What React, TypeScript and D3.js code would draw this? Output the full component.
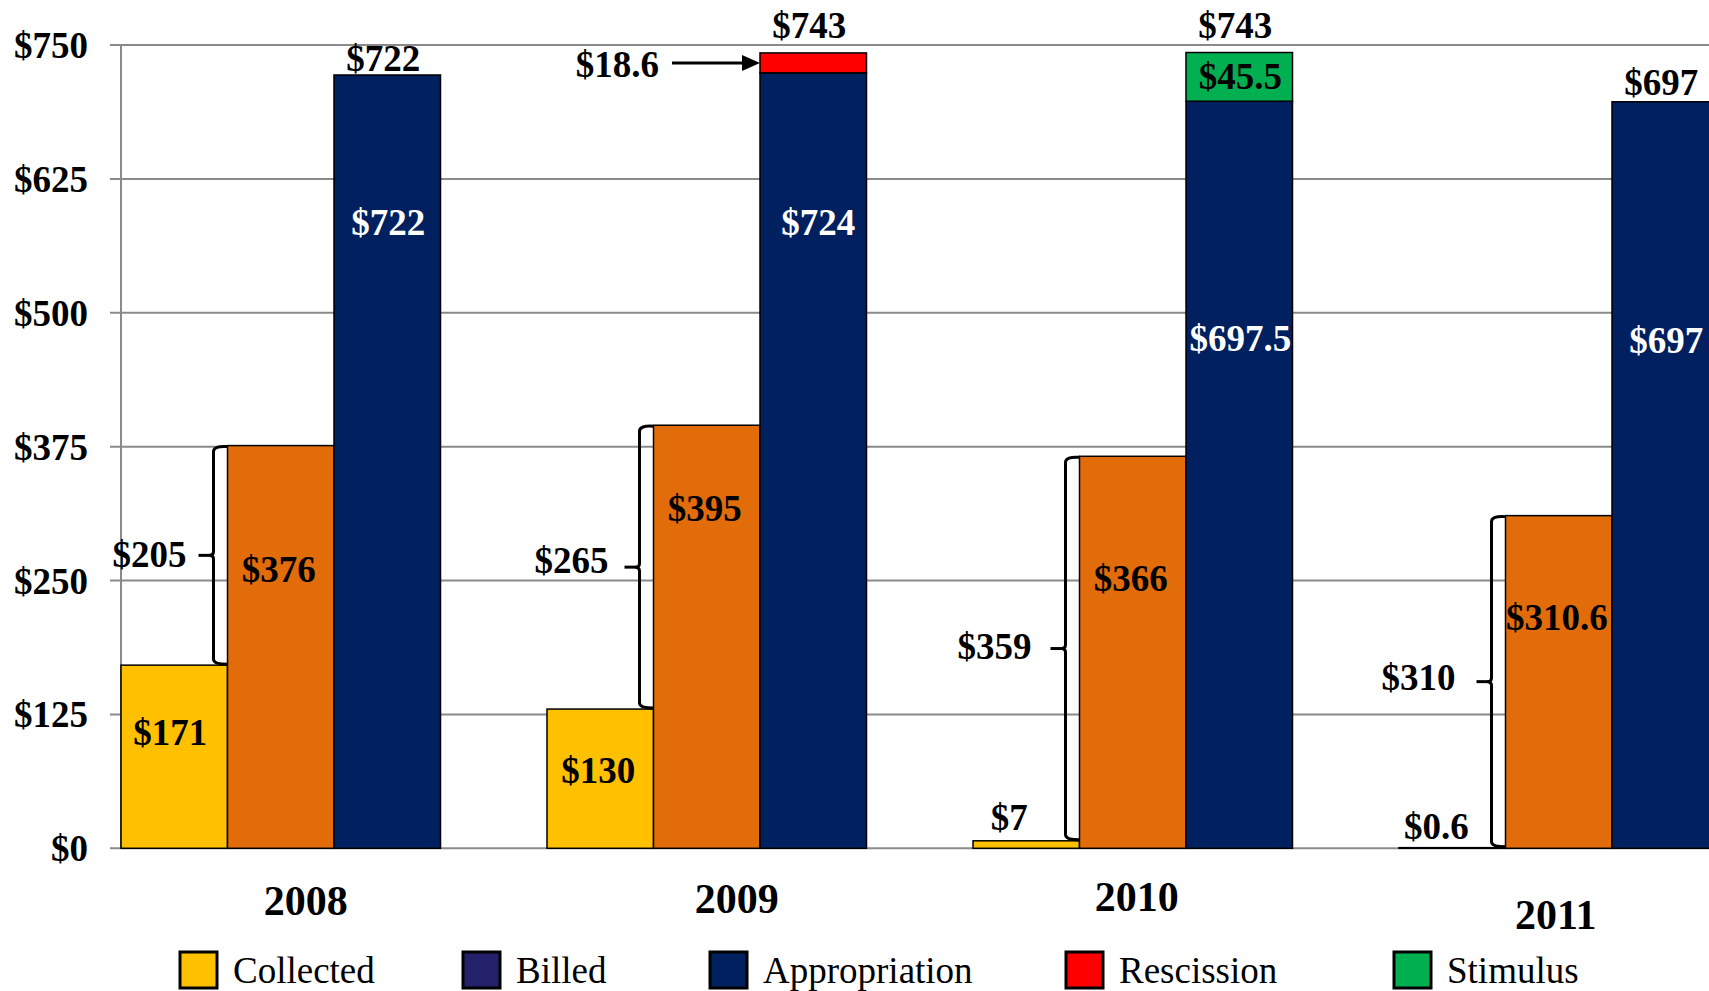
import React from "react";
import * as d3 from "d3";

const years = ["2008", "2009", "2010", "2011"];
const collected = [171, 130, 7, 0.6];
const billed = [376, 395, 366, 310.6];
const appropriation = [722, 724, 697.5, 697];
const rescission = [0, 18.6, 0, 0];
const stimulus = [0, 0, 45.5, 0];
const gapLabels = ["$205", "$265", "$359", "$310"];
const totals = ["$722", "$743", "$743", "$697"];
const yTicks = [0, 125, 250, 375, 500, 625, 750];
const seriesKeys = ["Collected", "Billed", "Appropriation"];
const legendItems = ["Collected", "Billed", "Appropriation", "Rescission", "Stimulus"];

// layout (label anchors in data units / px offsets)
const totalBaselineVals = [725.9, 756.5, 756.5, 703.3];
const apprBaselineVals = [572.6, 572.6, 464.5, 462.6];
const billedBaselineVals = [248.9, 305.6, 240.5, 203.8];
const collBaselineVals = [96.4, 61, 17.1, 8.7];
const collOffsets = [-4, -2, -17, -16];
const gapTextGap = [27, 31, 34, 36];
const gapTextDy = [12, 6, 10.5, 8.5];
const yearOffsets = [25, 30, 4, -3];
const yearBaselines = [915, 913, 911, 929];
const legendX = [180, 463, 710, 1066, 1394];

const COLORS: Record<string, string> = {
  Collected: "#FFC000",
  Billed: "#E36C0A",
  Appropriation: "#002060",
  Rescission: "#FF0000",
  Stimulus: "#00B050",
};
const LEGEND_COLORS: Record<string, string> = {
  Collected: "#FFC000",
  Billed: "#24216A",
  Appropriation: "#002060",
  Rescission: "#FF0000",
  Stimulus: "#00B050",
};

const FONT = "'Liberation Serif', 'Times New Roman', serif";

export default function App() {
  const W = 1709;
  const H = 991;
  const y = d3.scaleLinear().domain([0, 750]).range([848.3, 45]);
  const x0 = d3.scaleBand<string>().domain(years).range([121, 121 + 3.75 * 426]).paddingInner(0.25).paddingOuter(0);
  const x1 = d3.scaleBand<string>().domain(seriesKeys).range([0, x0.bandwidth()]).padding(0);
  const bw = x1.bandwidth();
  const gridColor = "#8a8a8a";

  const bars: any[] = [];
  years.forEach((yr, i) => {
    const gx = x0(yr)!;
    const vals = [collected[i], billed[i], appropriation[i]];
    seriesKeys.forEach((k, j) => {
      const bx = gx + x1(k)!;
      bars.push(
        <rect key={`${yr}-${k}`} x={bx} y={y(vals[j])} width={bw} height={y(0) - y(vals[j])}
          fill={COLORS[k]} stroke="#000" strokeWidth={1.5} />
      );
    });
    const ax = gx + x1("Appropriation")!;
    if (rescission[i] > 0) {
      const b = appropriation[i];
      bars.push(
        <rect key={`${yr}-res`} x={ax} y={y(b + rescission[i])} width={bw} height={y(b) - y(b + rescission[i])}
          fill={COLORS.Rescission} stroke="#000" strokeWidth={1.5} />
      );
    }
    if (stimulus[i] > 0) {
      const b = appropriation[i];
      bars.push(
        <rect key={`${yr}-stim`} x={ax} y={y(b + stimulus[i])} width={bw} height={y(b) - y(b + stimulus[i])}
          fill={COLORS.Stimulus} stroke="#000" strokeWidth={1.5} />
      );
    }
  });

  const labels: any[] = [];
  const braces: any[] = [];
  years.forEach((yr, i) => {
    const gx = x0(yr)!;
    const cx = gx + x1("Collected")! + bw / 2;
    const bxl = gx + x1("Billed")!;
    const bcx = bxl + bw / 2;
    const acx = gx + x1("Appropriation")! + bw / 2;
    const fmt = (v: number) => "$" + v;
    labels.push(<text key={`t${i}`} x={acx - 4} y={y(totalBaselineVals[i])} textAnchor="middle">{totals[i]}</text>);
    labels.push(<text key={`a${i}`} x={acx + (i === 1 ? 5 : 1)} y={y(apprBaselineVals[i])} textAnchor="middle" fill="#fff">{fmt(appropriation[i])}</text>);
    labels.push(<text key={`b${i}`} x={bcx - 2} y={y(billedBaselineVals[i])} textAnchor="middle">{fmt(billed[i])}</text>);
    labels.push(<text key={`c${i}`} x={cx + collOffsets[i]} y={y(collBaselineVals[i])} textAnchor="middle">{fmt(collected[i])}</text>);

    // brace
    const top = y(billed[i]);
    const bot = y(collected[i]);
    const mid = (top + bot) / 2;
    const vx = bxl - 14;
    const r = 6;
    const d = `M${bxl},${top + 1} Q${vx},${top} ${vx},${top + r} L${vx},${mid - 4} Q${vx},${mid} ${vx - 4},${mid} Q${vx},${mid} ${vx},${mid + 4} L${vx},${bot - r} Q${vx},${bot - 1} ${bxl},${bot - 1}`;
    braces.push(<path key={`br${i}`} d={d} fill="none" stroke="#000" strokeWidth={3} />);
    braces.push(<line key={`bt${i}`} x1={vx - 15} x2={vx - 3} y1={mid} y2={mid} stroke="#000" strokeWidth={3} />);
    labels.push(<text key={`g${i}`} x={vx - gapTextGap[i]} y={mid + gapTextDy[i]} textAnchor="end">{gapLabels[i]}</text>);
  });

  // rescission & stimulus annotations
  const i09 = 1, i10 = 2;
  const a09 = x0(years[i09])! + x1("Appropriation")!;
  const a10 = x0(years[i10])! + x1("Appropriation")!;
  const resMid = y(appropriation[i09] + rescission[i09] / 2);
  const stimMid = y(appropriation[i10] + stimulus[i10] / 2);

  return (
    <svg width={W} height={H} style={{ position: "absolute", left: 0, top: 0, display: "block", background: "#fff" }}
      fontFamily={FONT}>
      {yTicks.map((t) => (
        <line key={t} x1={110} x2={W} y1={y(t)} y2={y(t)} stroke={gridColor} strokeWidth={2} />
      ))}
      <line x1={121} x2={121} y1={y(750)} y2={y(0)} stroke={gridColor} strokeWidth={2} />
      {yTicks.map((t) => (
        <text key={`yl${t}`} x={88} y={y(t) + 13} textAnchor="end" fontSize={37} fontWeight="bold">{"$" + t}</text>
      ))}
      {bars}
      <g fontSize={37} fontWeight="bold">
        {braces}
        {labels}
        <text x={a09 - 101} y={resMid + 14} textAnchor="end">{"$" + rescission[i09]}</text>
        <line x1={a09 - 88} x2={a09 - 14} y1={resMid} y2={resMid} stroke="#000" strokeWidth={3} />
        <path d={`M${a09},${resMid} L${a09 - 18},${resMid - 8} L${a09 - 18},${resMid + 8} Z`} fill="#000" />
        <text x={a10 + bw / 2 + 1} y={stimMid + 12} textAnchor="middle">{"$" + stimulus[i10]}</text>
      </g>
      {years.map((yr, i) => (
        <text key={`yr${yr}`} x={x0(yr)! + x0.bandwidth() / 2 + yearOffsets[i]} y={yearBaselines[i]}
          textAnchor="middle" fontSize={42} fontWeight="bold">{yr}</text>
      ))}
      {legendItems.map((k, i) => (
        <g key={`lg${k}`}>
          <rect x={legendX[i]} y={952} width={37} height={36} fill={LEGEND_COLORS[k]} stroke="#000" strokeWidth={3} />
          <text x={legendX[i] + 53} y={983} fontSize={37}>{k}</text>
        </g>
      ))}
    </svg>
  );
}
